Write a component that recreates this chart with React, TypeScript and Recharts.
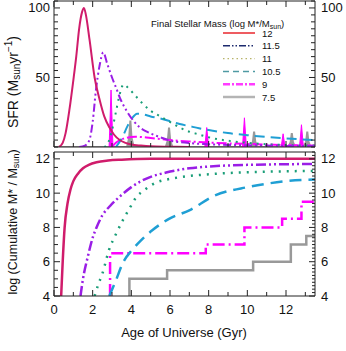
import React from 'react';
import { ComposedChart, Line, Area, XAxis, YAxis, Customized } from 'recharts';

const FONT = '"Liberation Sans", Arial, Helvetica, sans-serif';

// ---------- Top panel: star formation rate (Msun/yr) vs age (Gyr) ----------
const sfr12: [number, number][] = [
  [0.25, 0], [0.45, 3], [0.6, 10], [0.8, 27], [1.0, 48], [1.15, 65], [1.3, 85], [1.45, 97],
  [1.55, 100], [1.65, 95], [1.84, 77], [2.1, 50], [2.36, 34], [2.6, 22], [2.87, 14], [3.1, 9],
  [3.4, 5], [3.7, 3], [4.0, 1.8], [4.5, 1], [5.0, 0.5], [6.0, 0.2], [7.0, 0],
];
const sfr115: [number, number][] = [
  [1.3, 0], [1.6, 1], [1.83, 5], [2.0, 18], [2.17, 41], [2.35, 58], [2.55, 68], [2.75, 60],
  [3.0, 50], [3.2, 43], [3.45, 34], [3.8, 25], [4.1, 19], [4.4, 14.5], [4.8, 11], [5.2, 8.5],
  [5.6, 6.5], [6.0, 4.6], [6.5, 3.5], [7.0, 2.8], [8.0, 2], [9.0, 1.5], [10.0, 1.2], [11.0, 1],
  [12.0, 0.8], [13.5, 0.6],
];
const sfr11: [number, number][] = [
  [2.6, 0], [2.8, 3], [3.0, 12], [3.2, 25], [3.4, 38], [3.6, 45], [3.8, 43], [4.2, 37],
  [4.6, 31], [5.0, 26], [5.5, 22], [6.0, 18], [6.5, 14], [7.0, 11], [7.5, 9], [8.0, 7],
  [9.0, 4.5], [10.0, 3], [11.0, 2], [12.0, 1.4], [13.5, 1],
];
const sfr105: [number, number][] = [
  [3.2, 0], [3.5, 6], [3.8, 15], [4.05, 21], [4.3, 24], [4.6, 23.5], [5.0, 22], [5.5, 20.5],
  [6.0, 18.5], [6.5, 16.5], [7.0, 15], [7.5, 13.5], [8.0, 12.2], [9.0, 10], [10.0, 8.5],
  [11.0, 7.2], [12.0, 6.2], [13.5, 5],
];
const sfr9Smooth: [number, number][] = [
  [3.0, 0], [3.2, 3], [3.6, 6], [4.2, 7.4], [5.0, 6.5], [6.0, 5], [7.0, 4], [8.0, 3.2],
  [9.0, 2.6], [10.0, 2.2], [11.0, 1.8], [12.0, 1.4], [13.5, 1],
];
// burst times and peak heights
const burst9Time = [2.95, 7.9, 9.85, 11.85, 12.8];
const burst9Peak = [41, 14, 21, 9.5, 16];
const burst75Time = [3.95, 5.95, 10.35, 12.3, 13.1];
const burst75Peak = [19, 14, 11, 10, 11];

// ---------- Bottom panel: log cumulative stellar mass ----------
const mass12: [number, number][] = [
  [0.37, 4], [0.45, 6], [0.55, 8], [0.7, 9.4], [0.85, 10.2], [1.0, 10.7], [1.25, 11.15],
  [1.5, 11.45], [1.8, 11.65], [2.2, 11.8], [2.8, 11.9], [3.5, 11.95], [5.0, 12.0], [13.5, 12.0],
];
const mass115: [number, number][] = [
  [1.37, 4], [1.5, 5], [1.75, 6.3], [2.0, 7.4], [2.2, 8.0], [2.5, 8.7], [2.9, 9.25], [3.5, 9.9],
  [4.0, 10.35], [4.5, 10.7], [5.0, 10.95], [5.8, 11.2], [7.0, 11.45], [8.0, 11.55], [10.0, 11.65],
  [13.5, 11.7],
];
const mass11: [number, number][] = [
  [2.1, 4], [2.3, 4.7], [2.5, 5.3], [2.85, 6.7], [3.2, 7.6], [3.55, 8.4], [3.9, 9.1], [4.25, 9.75],
  [4.7, 10.2], [5.25, 10.6], [6.1, 10.85], [7.0, 11.0], [8.0, 11.1], [9.5, 11.2], [11.0, 11.25],
  [13.5, 11.3],
];
const mass105: [number, number][] = [
  [2.86, 4], [3.2, 4.9], [3.55, 5.9], [4.05, 6.7], [4.5, 7.25], [5.1, 7.85], [5.95, 8.5],
  [7.0, 9.0], [8.3, 9.85], [10.0, 10.35], [11.0, 10.55], [12.0, 10.7], [13.5, 10.8],
];
const mass9Step: [number, number][] = [
  [2.9, 4], [2.9, 6.5], [7.85, 7], [9.85, 8], [11.8, 8.5], [12.8, 9.5], [13.5, 9.5],
];
const mass75Step: [number, number][] = [
  [3.9, 4], [3.9, 5], [5.85, 5.5], [10.3, 6], [12.25, 7], [13.05, 7.5], [13.5, 7.5],
];

// ---------- Tick labels ----------
const xLabels = [0, 2, 4, 6, 8, 10, 12];
const sfrLabels = [50, 100];
const massLabels = [4, 6, 8, 10, 12];

// ---------- Legend ----------
const legendTitle = 'Final Stellar Mass (log M*/M';
const legendLabels = ['12', '11.5', '11', '10.5', '9', '7.5'];
const legendColors = ['#e8262c', '#1c2a6e', '#b8b46a', '#4f9aa3', '#ff3cff', '#b4b4b4'];
const legendDash = ['', '7 2 1.5 2 1.5 2', '1.5 3', '6 4', '7 2 2 2', ''];
const legendWidth = [1.5, 1.5, 1.2, 1.5, 2.5, 2.5];

const pts = (arr: [number, number][]) => arr.map(([t, v]) => ({ t, v }));
const spikes = (times: number[], peaks: number[], half: number) => {
  const out: { t: number; v: number | null }[] = [];
  times.forEach((t, i) => {
    out.push({ t: t - half, v: 0 });
    out.push({ t, v: peaks[i] });
    out.push({ t: t + half, v: 0 });
    out.push({ t: t + half + 0.001, v: null });
  });
  return out;
};
const spikesBase = (times: number[], peaks: number[], half: number) => {
  const out: { t: number; v: number }[] = [{ t: 0, v: 0 }];
  times.forEach((t, i) => {
    out.push({ t: t - half, v: 0 });
    out.push({ t: t - half * 0.35, v: peaks[i] * 0.35 });
    out.push({ t, v: peaks[i] });
    out.push({ t: t + half * 0.35, v: peaks[i] * 0.35 });
    out.push({ t: t + half, v: 0 });
  });
  out.push({ t: 13.5, v: 0 });
  return out;
};

const range = (a: number, b: number, s: number) => {
  const out: number[] = [];
  for (let i = 0; a + i * s <= b + 1e-9; i++) out.push(Math.round((a + i * s) * 1000) / 1000);
  return out;
};

const has = (arr: number[], v: number) => arr.some((a) => Math.abs(a - v) < 1e-6);

type Side = 'bottom' | 'top' | 'left' | 'right';
const makeTick = (side: Side, labels: number[], major: number[], majorLen: number, minorLen: number) =>
  (props: any) => {
    const { x, y, payload } = props;
    const v = payload.value;
    const len = has(major, v) ? majorLen : minorLen;
    const show = has(labels, v);
    let line: React.ReactNode = null;
    let label: React.ReactNode = null;
    const common = { fontFamily: FONT, fontSize: 13, fill: '#111' };
    if (side === 'bottom') {
      line = <line x1={x} x2={x} y1={y} y2={y - len} stroke="#222" strokeWidth={1} />;
      if (show) label = <text x={x} y={y + 13} textAnchor="middle" dominantBaseline="central" {...common}>{v}</text>;
    } else if (side === 'top') {
      line = <line x1={x} x2={x} y1={y} y2={y + len} stroke="#222" strokeWidth={1} />;
    } else if (side === 'left') {
      line = <line x1={x} x2={x + len} y1={y} y2={y} stroke="#222" strokeWidth={1} />;
      if (show) label = <text x={x - 4} y={y} textAnchor="end" dominantBaseline="central" {...common}>{v}</text>;
    } else {
      line = <line x1={x} x2={x - len} y1={y} y2={y} stroke="#222" strokeWidth={1} />;
      if (show) label = <text x={x + 6} y={y} textAnchor="start" dominantBaseline="central" {...common}>{v}</text>;
    }
    return <g>{line}{label}</g>;
  };

const axisCommon = {
  tickSize: 0,
  tickMargin: 0,
  tickLine: false,
  interval: 0 as const,
  allowDataOverflow: true,
  axisLine: { stroke: '#222', strokeWidth: 1 },
};

const xTicks = range(0, 13, 1);
const xMajor = xLabels;

const TopDecor = () => (
  <g fontFamily={FONT}>
    <text x={151} y={23} fontSize={9.5} dominantBaseline="central" fill="#111">
      {legendTitle}<tspan fontSize={7} dy={2.5}>sun</tspan><tspan dy={-2.5}>)</tspan>
    </text>
    {legendLabels.map((lab, i) => {
      const y = 33 + i * 12.8;
      return (
        <g key={lab}>
          <line x1={223} x2={255} y1={y} y2={y} stroke={legendColors[i]} strokeWidth={legendWidth[i]} strokeDasharray={legendDash[i] || undefined} />
          <text x={262} y={y} fontSize={9.5} dominantBaseline="central" fill="#111">{lab}</text>
        </g>
      );
    })}
  </g>
);

const C12 = '#d01c6b';
const C115 = '#9a1ee6';
const C11 = '#1a9e78';
const C105 = '#1f9fd4';
const C9 = '#ff00ff';
const C75 = '#999999';

export default function App() {
  return (
    <div style={{ position: 'absolute', left: 0, top: 0, width: 346, height: 351, background: '#fff' }}>
      <div style={{ position: 'absolute', left: 0, top: 0 }}>
        <ComposedChart width={346} height={150} margin={{ top: 0, right: 30, bottom: 2, left: 53 }}>
          <XAxis xAxisId="b" type="number" dataKey="t" domain={[0, 13.5]} orientation="bottom" height={1} ticks={xTicks}
            tick={makeTick('bottom', [], xMajor, 6, 4)} {...axisCommon} />
          <XAxis xAxisId="t" type="number" dataKey="t" domain={[0, 13.5]} orientation="top" height={1} ticks={xTicks}
            tick={makeTick('top', [], xMajor, 6, 4)} {...axisCommon} />
          <YAxis yAxisId="l" type="number" domain={[0, 105]} orientation="left" width={1} ticks={range(0, 105, 5)}
            tick={makeTick('left', sfrLabels, sfrLabels, 6, 4)} {...axisCommon} />
          <YAxis yAxisId="r" type="number" domain={[0, 105]} orientation="right" width={1} ticks={range(0, 105, 5)}
            tick={makeTick('right', sfrLabels, sfrLabels, 6, 4)} {...axisCommon} />
          <Area data={spikesBase(burst75Time, burst75Peak, 0.17)} dataKey="v" xAxisId="b" yAxisId="l" type="linear"
            stroke={C75} strokeWidth={2} fill={C75} fillOpacity={1} isAnimationActive={false} />
          <Area data={spikes(burst9Time, burst9Peak, 0.1)} dataKey="v" xAxisId="b" yAxisId="l" type="linear"
            stroke={C9} strokeWidth={1} fill={C9} fillOpacity={1} isAnimationActive={false} />
          <Line data={pts(sfr9Smooth)} dataKey="v" xAxisId="b" yAxisId="l" type="monotone" stroke={C9} strokeWidth={2}
            strokeDasharray="10 3 2 3" dot={false} isAnimationActive={false} />
          <Line data={pts(sfr105)} dataKey="v" xAxisId="b" yAxisId="l" type="monotone" stroke={C105} strokeWidth={2}
            strokeDasharray="10 6" dot={false} isAnimationActive={false} />
          <Line data={pts(sfr11)} dataKey="v" xAxisId="b" yAxisId="l" type="monotone" stroke={C11} strokeWidth={2}
            strokeDasharray="2 5" dot={false} isAnimationActive={false} />
          <Line data={pts(sfr115)} dataKey="v" xAxisId="b" yAxisId="l" type="monotone" stroke={C115} strokeWidth={2}
            strokeDasharray="8 3 2 3 2 3" dot={false} isAnimationActive={false} />
          <Line data={pts(sfr12)} dataKey="v" xAxisId="b" yAxisId="l" type="monotone" stroke={C12} strokeWidth={2}
            dot={false} isAnimationActive={false} />
          <Customized component={TopDecor} />
        </ComposedChart>
      </div>
      <div style={{ position: 'absolute', left: 0, top: 150 }}>
        <ComposedChart width={346} height={201} margin={{ top: 1, right: 30, bottom: 54, left: 53 }}>
          <XAxis xAxisId="b" type="number" dataKey="t" domain={[0, 13.5]} orientation="bottom" height={1} ticks={xTicks}
            tick={makeTick('bottom', xLabels, xMajor, 6, 4)} {...axisCommon} />
          <XAxis xAxisId="t" type="number" dataKey="t" domain={[0, 13.5]} orientation="top" height={1} ticks={xTicks}
            tick={makeTick('top', [], xMajor, 6, 4)} {...axisCommon} />
          <YAxis yAxisId="l" type="number" domain={[4, 12.4]} orientation="left" width={1} ticks={range(4, 12, 0.5)}
            tick={makeTick('left', massLabels, massLabels, 6, 4)} {...axisCommon} />
          <YAxis yAxisId="r" type="number" domain={[4, 12.4]} orientation="right" width={1} ticks={range(4, 12.4, 0.2)}
            tick={makeTick('right', massLabels, massLabels, 6, 3)} {...axisCommon} />
          <Line data={pts(mass75Step)} dataKey="v" xAxisId="b" yAxisId="l" type="stepAfter" stroke={C75} strokeWidth={2.5}
            dot={false} isAnimationActive={false} />
          <Line data={pts(mass9Step)} dataKey="v" xAxisId="b" yAxisId="l" type="stepAfter" stroke={C9} strokeWidth={2.5}
            strokeDasharray="12 4 2 4" dot={false} isAnimationActive={false} />
          <Line data={pts(mass105)} dataKey="v" xAxisId="b" yAxisId="l" type="monotone" stroke={C105} strokeWidth={2.5}
            strokeDasharray="12 7" dot={false} isAnimationActive={false} />
          <Line data={pts(mass11)} dataKey="v" xAxisId="b" yAxisId="l" type="monotone" stroke={C11} strokeWidth={2.5}
            strokeDasharray="2 6" dot={false} isAnimationActive={false} />
          <Line data={pts(mass115)} dataKey="v" xAxisId="b" yAxisId="l" type="monotone" stroke={C115} strokeWidth={2.5}
            strokeDasharray="10 3 2 3 2 3" dot={false} isAnimationActive={false} />
          <Line data={pts(mass12)} dataKey="v" xAxisId="b" yAxisId="l" type="monotone" stroke={C12} strokeWidth={2.5}
            dot={false} isAnimationActive={false} />
        </ComposedChart>
      </div>
      <svg width={346} height={351} style={{ position: 'absolute', left: 0, top: 0, pointerEvents: 'none' }}>
        <g fontFamily={FONT} fill="#111">
          <text transform="rotate(-90, 13, 82)" x={13} y={82} textAnchor="middle" dominantBaseline="central" fontSize={14}>
            SFR (M<tspan fontSize={10} dy={3}>sun</tspan><tspan dy={-3}>yr</tspan><tspan fontSize={10} dy={-5}>−1</tspan><tspan dy={5}>)</tspan>
          </text>
          <text transform="rotate(-90, 13, 222)" x={13} y={222} textAnchor="middle" dominantBaseline="central" fontSize={12.5}>
            log (Cumulative M* / M<tspan fontSize={9} dy={3}>sun</tspan><tspan dy={-3}>)</tspan>
          </text>
          <text x={184} y={332} textAnchor="middle" dominantBaseline="central" fontSize={13}>
            Age of Universe (Gyr)
          </text>
        </g>
      </svg>
    </div>
  );
}
